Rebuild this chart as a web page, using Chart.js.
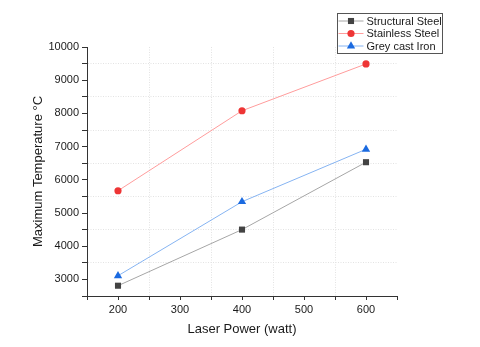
<!DOCTYPE html>
<html>
<head>
<meta charset="utf-8">
<title>Maximum Temperature vs Laser Power</title>
<script src="https://cdn.jsdelivr.net/npm/chart.js@4/dist/chart.umd.min.js"></script>
<style>
  html, body { margin: 0; padding: 0; background: #fff; }
  #chart { display: block; }
</style>
</head>
<body>
<canvas id="chart" width="480" height="347"></canvas>
<script>
// Data
const laserPower = [200, 400, 600];
const structuralSteel = [2810, 4500, 6530];
const stainlessSteel = [5670, 8080, 9490];
const greyCastIron = [3110, 5340, 6920];

const seriesNames = ['Structural Steel', 'Stainless Steel', 'Grey cast Iron'];
const xTicks = { min: 150, max: 650, step: 50, labelEvery: 100 };
const yTicks = { min: 2500, max: 10000, step: 500, labelEvery: 1000 };

const FONT = "'Liberation Sans', Arial, sans-serif";

function toPoints(values) {
  return laserPower.map((x, i) => ({ x: x, y: values[i] }));
}

// Minor positions carry the dotted grid, major positions carry the labels
function gridColor(ctx, t) {
  const v = ctx.tick ? ctx.tick.value : null;
  if (v === null || v === t.min || v === t.max) return 'rgba(0,0,0,0)';
  return v % t.labelEvery === 0 ? 'rgba(0,0,0,0)' : '#e3e3e3';
}

// Draws a legend marker the same way as the series markers
function drawMarker(ctx, style, x, y, r, color) {
  ctx.save();
  ctx.fillStyle = color;
  ctx.beginPath();
  if (style === 'rect') {
    const s = r * Math.SQRT1_2;
    ctx.rect(x - s, y - s, 2 * s, 2 * s);
  } else if (style === 'triangle') {
    ctx.moveTo(x, y - r);
    ctx.lineTo(x + r * 0.866, y + r * 0.5);
    ctx.lineTo(x - r * 0.866, y + r * 0.5);
    ctx.closePath();
  } else {
    ctx.arc(x, y, r, 0, Math.PI * 2);
  }
  ctx.fill();
  ctx.restore();
}

// Boxed legend in the top right, outside the plot area
const boxedLegend = {
  id: 'boxedLegend',
  afterDraw(chart) {
    const ctx = chart.ctx;
    const left = 337.5, top = 13.5, width = 105, height = 40;
    ctx.save();
    ctx.fillStyle = '#fff';
    ctx.fillRect(left, top, width, height);
    ctx.strokeStyle = '#555';
    ctx.lineWidth = 1;
    ctx.strokeRect(left, top, width, height);

    ctx.font = '11px ' + FONT;
    ctx.textBaseline = 'middle';
    ctx.textAlign = 'left';
    chart.data.datasets.forEach((ds, i) => {
      const y = top + 7.5 + i * 12.5;
      ctx.strokeStyle = ds.borderColor;
      ctx.lineWidth = 1;
      ctx.beginPath();
      ctx.moveTo(left + 1, y);
      ctx.lineTo(left + 26, y);
      ctx.stroke();
      drawMarker(ctx, ds.pointStyle, left + 13.5, y, ds.pointRadius, ds.pointBackgroundColor);
      ctx.fillStyle = '#1a1a1a';
      ctx.fillText(ds.label, left + 29, y + 0.5);
    });
    ctx.restore();
  }
};

new Chart(document.getElementById('chart').getContext('2d'), {
  type: 'line',
  data: {
    datasets: [
      {
        label: seriesNames[0],
        data: toPoints(structuralSteel),
        borderColor: '#a6a6a6',
        borderWidth: 1,
        pointStyle: 'rect',
        pointRadius: 4.3,
        pointBackgroundColor: '#434343',
        pointBorderColor: '#434343',
        pointBorderWidth: 0
      },
      {
        label: seriesNames[1],
        data: toPoints(stainlessSteel),
        borderColor: '#ff9c9c',
        borderWidth: 1,
        pointStyle: 'circle',
        pointRadius: 3.6,
        pointBackgroundColor: '#ee3535',
        pointBorderColor: '#ee3535',
        pointBorderWidth: 0
      },
      {
        label: seriesNames[2],
        data: toPoints(greyCastIron),
        borderColor: '#86b4f2',
        borderWidth: 1,
        pointStyle: 'triangle',
        pointRadius: 4.8,
        pointBackgroundColor: '#1b6ae0',
        pointBorderColor: '#1b6ae0',
        pointBorderWidth: 0
      }
    ]
  },
  options: {
    responsive: false,
    animation: false,
    devicePixelRatio: 1,
    layout: { padding: { left: 0, top: 47, right: 83, bottom: 0 } },
    plugins: {
      legend: { display: false },
      tooltip: { enabled: false }
    },
    scales: {
      x: {
        type: 'linear',
        min: xTicks.min,
        max: xTicks.max,
        afterFit: (scale) => { scale.height = 51; },
        ticks: {
          stepSize: xTicks.step,
          padding: 3,
          color: '#1a1a1a',
          font: { family: FONT, size: 11 },
          maxRotation: 0,
          autoSkip: false,
          callback: (v) => (v % xTicks.labelEvery === 0 ? v : '')
        },
        grid: {
          color: (ctx) => gridColor(ctx, xTicks),
          tickColor: '#333',
          tickLength: 4,
          lineWidth: 1
        },
        border: { display: true, color: '#333', width: 1, dash: [1, 1.5] },
        title: {
          display: true,
          text: 'Laser Power (watt)',
          color: '#1a1a1a',
          font: { family: FONT, size: 13 },
          padding: { top: 0, bottom: 10 }
        }
      },
      y: {
        type: 'linear',
        min: yTicks.min,
        max: yTicks.max,
        afterFit: (scale) => { scale.width = 87; },
        ticks: {
          stepSize: yTicks.step,
          padding: 3,
          color: '#1a1a1a',
          font: { family: FONT, size: 11 },
          autoSkip: false,
          callback: (v) => (v % yTicks.labelEvery === 0 ? v : '')
        },
        grid: {
          color: (ctx) => gridColor(ctx, yTicks),
          tickColor: '#333',
          tickLength: 5,
          lineWidth: 1
        },
        border: { display: true, color: '#333', width: 1, dash: [1, 1.5] },
        title: {
          display: true,
          text: 'Maximum Temperature °C',
          color: '#1a1a1a',
          font: { family: FONT, size: 13 },
          padding: { top: 31, bottom: 0 }
        }
      }
    }
  },
  plugins: [boxedLegend]
});
</script>
</body>
</html>
